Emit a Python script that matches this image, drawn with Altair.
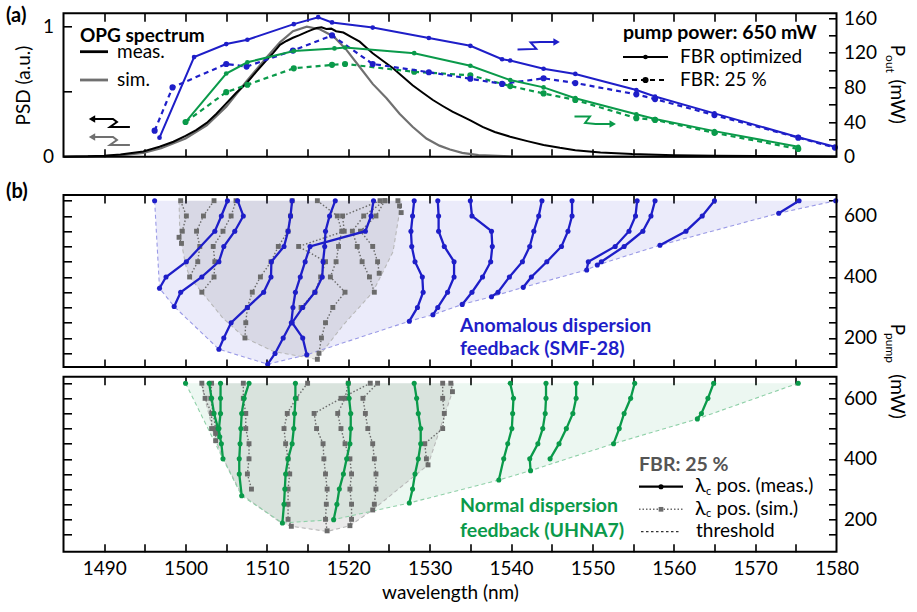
import altair as alt
import pandas as pd

FONT = "Lato"
BLUE = "#1e1ec8"
GREEN = "#0a9a4a"
SIMC = "#6b6b6b"

# ---------------- panel (a): OPG spectra (left axis) ----------------
PSD_MEAS_WL = [1485, 1488, 1490, 1492, 1494.8, 1496.8, 1498.5, 1500, 1501.3, 1502.6, 1503.8, 1505, 1506.2,
               1507.5, 1508.7, 1509.9, 1510.8, 1511.6, 1512.4, 1513.2, 1514.0, 1514.9, 1515.5, 1516.1, 1516.7,
               1517.3, 1517.9, 1518.5, 1519.4, 1520.4, 1521.4, 1522.2, 1523, 1524.2, 1525.5, 1526.7, 1527.9,
               1529.2, 1530.4, 1531.6, 1532.8, 1534, 1535, 1536.5, 1538, 1539.9, 1542, 1544, 1546, 1547.9,
               1551, 1554.9, 1560, 1565, 1570, 1575, 1580]
PSD_MEAS = [0, 0.003, 0.008, 0.017, 0.04, 0.077, 0.115, 0.16, 0.205, 0.26, 0.33, 0.41, 0.49,
            0.565, 0.655, 0.74, 0.80, 0.86, 0.89, 0.915, 0.935, 0.96, 0.975, 0.99, 0.995,
            0.982, 0.985, 0.965, 0.955, 0.92, 0.885, 0.84, 0.795, 0.74, 0.68, 0.615, 0.55,
            0.49, 0.436, 0.39, 0.346, 0.31, 0.28, 0.23, 0.19, 0.154, 0.12, 0.09, 0.068, 0.05,
            0.032, 0.02, 0.012, 0.008, 0.005, 0.003, 0.002]
PSD_SIM_WL = [1485, 1488, 1490, 1492.5, 1494.8, 1497, 1500, 1502.6, 1505, 1507.5, 1509.9, 1511.6, 1513.2,
              1514.9, 1516.5, 1518.2, 1519.8, 1521.4, 1523, 1524.7, 1526.3, 1527.9, 1529.6, 1531.2,
              1532.5, 1534, 1536, 1540, 1545, 1580]
PSD_SIM = [0, 0.002, 0.005, 0.014, 0.03, 0.065, 0.14, 0.24, 0.385, 0.58, 0.76, 0.88, 0.965,
           1.0, 0.98, 0.925, 0.82, 0.69, 0.56, 0.45, 0.33, 0.23, 0.14, 0.085,
           0.055, 0.03, 0.012, 0.002, 0, 0]

# ---------------- panel (a): output power at 650 mW pump (right axis) ----------------
SMF_OPT_WL = [1496.8, 1501.05, 1505.0, 1507.6, 1513.3, 1516.3, 1518.0, 1523.0, 1529.9, 1535.0,
              1538.9, 1539.9, 1544.0, 1547.9, 1555.4, 1557.7, 1565.0, 1575.3, 1579.8]
SMF_OPT_P = [22, 115, 130, 135, 153, 161, 155, 149, 137, 128, 112.5, 111, 101.5, 95.5, 77, 69.5, 50, 22.5, 11.5]
SMF_25_WL = [1496.2, 1498.4, 1505.0, 1507.5, 1513.2, 1518.0, 1523.0, 1529.9, 1535.0, 1538.9,
             1544.0, 1547.9, 1555.4, 1557.7, 1565.0, 1575.3, 1579.8]
SMF_25_P = [30, 80, 107, 104, 122.5, 140, 107, 97.5, 90, 84, 90.5, 85, 72, 66.5, 48, 22, 10.5]
UHNA_OPT_WL = [1500.0, 1505.0, 1507.6, 1513.3, 1518.3, 1519.6, 1528.1, 1535.0, 1539.9, 1544.0,
               1547.9, 1555.4, 1557.7, 1565.0, 1575.3]
UHNA_OPT_P = [40, 96, 109, 122, 125, 126, 119.5, 105, 88.5, 80, 67.5, 49, 43.5, 29.5, 11.5]
UHNA_25_WL = [1500.0, 1505.0, 1507.6, 1513.3, 1518.0, 1519.6, 1528.1, 1535.0, 1539.9, 1544.0,
              1547.9, 1555.4, 1557.7, 1565.0, 1575.3]
UHNA_25_P = [40, 74.5, 83, 102, 106, 107, 98, 94, 81.5, 73, 65.5, 44.5, 42.5, 27.5, 9]

# arrows (data coordinates)
ARW_K_WL = [1488.5, 1491.08, 1491.57, 1490.71, 1493.16]
ARW_K_Y = [0.290, 0.290, 0.267, 0.228, 0.228]
ARW_G_Y = [0.152, 0.152, 0.128, 0.090, 0.090]
ARW_B_WL = [1540.8, 1543.1, 1542.4, 1543.6, 1545.6]
ARW_B_Y = [123.8, 124.4, 131.9, 132.4, 132.4]
ARW_N_WL = [1547.8, 1549.7, 1549.1, 1550.4, 1552.5]
ARW_N_Y = [46.4, 46.4, 38.9, 37.8, 37.8]

# ---------------- panel (b) upper: anomalous dispersion (SMF-28) ----------------
SMF_MEAS_WL = [
    [1496.2],
    [1505.15, 1504.4, 1503.6, 1500.1, 1497.6, 1496.8],
    [1506.4, 1507.1, 1506.05, 1504.7, 1504.1, 1502.0, 1499.4, 1498.6],
    [1513.1, 1512.9, 1512.6, 1512.1, 1510.55, 1510.5, 1509.6, 1507.6, 1505.6, 1504.7, 1504.1],
    [1523.1, 1522.8, 1522.1, 1515.3, 1514.7, 1514.1, 1513.5, 1513.2, 1513.0, 1512.0, 1511.0, 1510.1],
    [1518.4, 1517.7, 1517.2, 1517.1, 1516.9, 1516.8, 1515.9, 1514.4, 1513.1, 1514.4, 1514.9],
    [1528.1, 1527.9, 1527.7, 1527.8, 1528.2, 1529.1, 1529.2, 1528.5, 1527.5],
    [1531.0, 1531.1, 1531.1, 1531.8, 1533.0, 1533.0, 1532.2, 1531.0, 1530.4],
    [1535.0, 1535.2, 1537.6, 1537.7, 1537.5, 1536.5, 1535.2, 1534.0],
    [1543.8, 1543.4, 1542.8, 1542.3, 1541.4, 1539.8, 1538.4, 1537.6],
    [1547.5, 1547.5, 1547.0, 1546.2, 1544.4, 1542.5, 1541.5],
    [1555.5, 1555.3, 1554.5, 1552.8, 1549.5, 1549.3],
    [1557.7, 1557.2, 1556.2, 1553.9, 1551.1, 1550.6],
    [1565.0, 1563.5, 1561.5, 1558.3],
    [1575.4, 1572.9],
    [1579.9],
]
SMF_MEAS_PUMP = [
    [650],
    [650, 600, 550, 450, 400, 363],
    [650, 600, 550, 500, 450, 400, 350, 303],
    [650, 600, 550, 500, 450, 400, 350, 300, 250, 200, 163],
    [650, 600, 550, 500, 450, 400, 350, 300, 250, 200, 149, 114],
    [650, 600, 550, 500, 450, 400, 350, 300, 250, 200, 145],
    [650, 600, 550, 500, 450, 400, 350, 300, 255],
    [650, 600, 550, 500, 450, 400, 350, 300, 276],
    [650, 600, 550, 500, 450, 400, 350, 310],
    [650, 600, 550, 500, 450, 400, 350, 335],
    [650, 600, 550, 500, 450, 400, 366],
    [650, 600, 550, 500, 450, 423],
    [650, 600, 550, 500, 450, 439],
    [650, 600, 550, 504],
    [650, 609],
    [650],
]
SMF_SIM_WL = [
    [1499.4, 1500.1, 1499.6, 1499.2, 1499.5],
    [1503.5, 1502.2, 1501.35, 1501.75, 1501.5, 1500.5],
    [1506.2, 1505.6, 1504.6, 1503.4, 1503.6, 1503.5, 1502.0],
    [1513.1, 1512.9, 1512.6, 1511.4, 1510.5, 1509.2, 1508.2, 1507.6, 1507.4, 1507.3],
    [1516.2, 1518.65, 1519.2, 1518.8, 1518.5, 1517.8, 1519.6, 1518.1, 1517.2, 1516.7, 1516.4, 1516.2],
    [1523.9, 1519.3, 1519.5, 1513.9, 1517.2, 1516.6, 1515.9, 1514.2],
    [1524.5, 1521.9, 1520.5, 1521.1, 1521.7, 1522.6, 1523.2],
    [1524.5, 1523.4, 1521.5, 1523.0, 1523.6, 1523.8],
    [1526.1, 1526.3, 1526.5],
]
SMF_SIM_PUMP = [
    [650, 600, 550, 530, 510],
    [650, 600, 550, 500, 450, 400],
    [650, 600, 550, 500, 450, 400, 350],
    [650, 600, 550, 500, 450, 400, 350, 300, 250, 200],
    [650, 600, 550, 500, 450, 400, 350, 300, 250, 200, 150, 130],
    [650, 600, 550, 500, 450, 400, 350, 300],
    [650, 600, 550, 500, 450, 400, 350],
    [650, 600, 550, 500, 450, 412],
    [650, 633, 611],
]
SMF_THR_WL = [1496.2, 1496.8, 1498.6, 1504.1, 1510.1, 1514.9, 1527.5, 1530.4, 1534.0, 1537.6,
              1541.5, 1549.3, 1550.6, 1558.3, 1572.9, 1579.9]
SMF_THR_PUMP = [650, 363, 303, 163, 114, 145, 255, 276, 310, 335, 366, 423, 439, 504, 609, 650]
SMF_SIMTHR_WL = [1499.2, 1499.3, 1500.0, 1500.5, 1502.0, 1504.6, 1507.3, 1510.8, 1516.1, 1519.4,
                 1523.0, 1525.5, 1526.4, 1526.6]
SMF_SIMTHR_PUMP = [650, 540, 440, 400, 350, 265, 200, 156, 130, 243, 350, 483, 630, 650]

# ---------------- panel (b) lower: normal dispersion (UHNA7) ----------------
UHNA_MEAS_WL = [
    [1500.0],
    [1502.9, 1503.2, 1503.5, 1504.0, 1504.4, 1504.6],
    [1504.3, 1504.3, 1504.3, 1504.1, 1504.2],
    [1507.8, 1507.2, 1506.9, 1506.8, 1506.7, 1506.6, 1506.6, 1506.9],
    [1513.5, 1513.5, 1513.4, 1513.3, 1513.1, 1512.6, 1512.3, 1512.2, 1512.1, 1511.9],
    [1520.0, 1520.1, 1520.3, 1520.3, 1520.2, 1519.8, 1519.4, 1518.9, 1518.6, 1518.2],
    [1528.1, 1528.4, 1528.6, 1528.9, 1528.9, 1528.6, 1528.2, 1527.9, 1527.5],
    [1539.9, 1540.3, 1540.2, 1540.1, 1539.6, 1539.1, 1538.5],
    [1544.3, 1544.3, 1544.2, 1543.9, 1543.3, 1542.3, 1542.4],
    [1548.0, 1548.0, 1547.6, 1546.8, 1545.9, 1544.8],
    [1555.2, 1554.7, 1553.9, 1553.3, 1552.6],
    [1564.9, 1564.2, 1563.4, 1562.9],
    [1575.3],
]
UHNA_MEAS_PUMP = [
    [650],
    [650, 600, 550, 500, 450, 400],
    [650, 600, 550, 500, 473],
    [650, 600, 550, 500, 450, 400, 350, 278],
    [650, 600, 550, 500, 450, 400, 350, 300, 250, 188],
    [650, 600, 550, 500, 450, 400, 350, 300, 250, 199],
    [650, 600, 550, 500, 450, 400, 350, 300, 254],
    [650, 600, 550, 500, 450, 400, 330],
    [650, 600, 550, 500, 450, 400, 361],
    [650, 600, 550, 500, 450, 400],
    [650, 600, 550, 500, 450],
    [650, 600, 550, 532],
    [650],
]
UHNA_SIM_WL = [
    [1502.0, 1502.4, 1503.2, 1503.2, 1503.7],
    [1503.2, 1503.1, 1503.4, 1503.7, 1503.7],
    [1507.1, 1507.1, 1507.4, 1507.4, 1507.8, 1507.8, 1507.6, 1508.1],
    [1515.0, 1513.6, 1512.5, 1512.1, 1512.3, 1512.6, 1512.8, 1512.6, 1512.6, 1512.6, 1513.0],
    [1522.7, 1519.1, 1515.8, 1516.1, 1516.9, 1517.0, 1517.2, 1517.4, 1517.3, 1517.2, 1517.4],
    [1523.6, 1521.8, 1522.1, 1522.4, 1523.0, 1523.2, 1523.4, 1523.4, 1523.2, 1523.0],
    [1520.0, 1519.6, 1518.7, 1519.1, 1519.6, 1520.2, 1520.4, 1520.2, 1520.4, 1520.4, 1520.2],
    [1531.6, 1531.6, 1531.8, 1531.6, 1529.4, 1529.6, 1529.8],
    [1532.6, 1532.8],
]
UHNA_SIM_PUMP = [
    [650, 600, 550, 500, 484],
    [650, 600, 550, 500, 460],
    [650, 600, 550, 500, 450, 400, 350, 300],
    [650, 600, 550, 500, 450, 400, 350, 300, 250, 200, 177],
    [650, 600, 550, 500, 450, 400, 350, 300, 250, 200, 162],
    [650, 600, 550, 500, 450, 400, 350, 300, 250, 231],
    [650, 600, 550, 500, 450, 400, 350, 300, 250, 200, 179],
    [650, 600, 550, 500, 450, 400, 380],
    [650, 622],
]
UHNA_THR_WL = [1500.0, 1504.6, 1506.9, 1511.9, 1518.2, 1527.5, 1538.5, 1542.4, 1552.6, 1562.9, 1575.3]
UHNA_THR_PUMP = [650, 400, 278, 188, 199, 254, 330, 361, 450, 532, 650]
UHNA_SIMTHR_WL = [1501.9, 1503.6, 1504.6, 1506.9, 1511.8, 1513.0, 1517.4, 1520.2, 1523.0, 1529.8, 1532.8, 1532.9]
UHNA_SIMTHR_PUMP = [650, 470, 402, 282, 187, 177, 160, 179, 231, 380, 622, 650]

X_TICKS = list(range(1490, 1580, 5))
X_LABELS = list(range(1490, 1581, 10))
PUMP_TICKS = list(range(150, 651, 50))
PUMP_LABELS = [200, 400, 600]
POUT_TICKS = list(range(20, 161, 20))
POUT_LABELS = [0, 40, 80, 120, 160]

# ---------------- layout ----------------
W = 773.0
H = 538.4
A_T, A_B = 0.0, 143.4
B1_T, B1_B = 181.7, 353.7
B2_T, B2_B = 363.4, 538.4

XS = alt.Scale(domain=[1485, 1580], nice=False, zero=False)


def yscale(dom, top, bot):
    return alt.Scale(domain=dom, range=[bot, top], nice=False, zero=False)


S_PSD = yscale([0, 1.103], A_T, A_B)
S_POUT = yscale([0, 165.5], A_T, A_B)
S_B1 = yscale([104.8, 668.7], B1_T, B1_B)
S_B2 = yscale([93, 671.5], B2_T, B2_B)

X = alt.X("wl:Q", scale=XS, axis=None)


def Y(scale):
    return alt.Y("y:Q", scale=scale, axis=None)


def df_xy(wl, y):
    return pd.DataFrame({"wl": wl, "y": y, "i": list(range(len(wl)))})


def df_series(wls, ps):
    rows = []
    for k, (wl, p) in enumerate(zip(wls, ps)):
        for i, (a, b) in enumerate(zip(wl, p)):
            rows.append({"s": k, "i": i, "wl": a, "y": b})
    return pd.DataFrame(rows)


ONE = pd.DataFrame({"a": [0]})
layers = []


def panel_b(mwl, mp, swl, sp, twl, tp, stwl, stp, scale, color, fill_op, thr_color):
    out = []
    thr = df_xy(twl, tp).assign(top=650)
    sthr = df_xy(stwl, stp).assign(top=650)
    out.append(alt.Chart(thr).mark_area(color=color, opacity=fill_op).encode(x=X, y=Y(scale), y2="top:Q"))
    out.append(alt.Chart(sthr).mark_area(color="#555555", opacity=0.12).encode(x=X, y=Y(scale), y2="top:Q"))
    out.append(alt.Chart(sthr).mark_line(color="#b8b8b8", strokeDash=[4, 3], strokeWidth=1.1).encode(x=X, y=Y(scale)))
    out.append(alt.Chart(thr).mark_line(color=thr_color, strokeDash=[4, 3], strokeWidth=1.1).encode(x=X, y=Y(scale)))
    sim = df_series(swl, sp)
    out.append(alt.Chart(sim).mark_line(color=SIMC, strokeDash=[1.5, 2], strokeWidth=1.4).encode(
        x=X, y=Y(scale), detail="s:N", order="i:Q"))
    out.append(alt.Chart(sim).mark_square(color=SIMC, size=24, opacity=1).encode(x=X, y=Y(scale)))
    meas = df_series(mwl, mp)
    out.append(alt.Chart(meas).mark_line(color=color, strokeWidth=2.3).encode(
        x=X, y=Y(scale), detail="s:N", order="i:Q"))
    out.append(alt.Chart(meas).mark_circle(color=color, size=26, opacity=1).encode(x=X, y=Y(scale)))
    return out


layers += panel_b(SMF_MEAS_WL, SMF_MEAS_PUMP, SMF_SIM_WL, SMF_SIM_PUMP, SMF_THR_WL, SMF_THR_PUMP,
                  SMF_SIMTHR_WL, SMF_SIMTHR_PUMP, S_B1, BLUE, 0.09, "#9a9ae6")
layers += panel_b(UHNA_MEAS_WL, UHNA_MEAS_PUMP, UHNA_SIM_WL, UHNA_SIM_PUMP, UHNA_THR_WL, UHNA_THR_PUMP,
                  UHNA_SIMTHR_WL, UHNA_SIMTHR_PUMP, S_B2, GREEN, 0.08, "#8fd0a8")

# panel (a) spectra
layers.append(alt.Chart(df_xy(PSD_SIM_WL, PSD_SIM)).mark_line(color="#707070", strokeWidth=2.2).encode(x=X, y=Y(S_PSD)))
layers.append(alt.Chart(df_xy(PSD_MEAS_WL, PSD_MEAS)).mark_line(color="black", strokeWidth=2).encode(x=X, y=Y(S_PSD)))

# panel (a) power
for wl, p, col, dash, sz in [(UHNA_25_WL, UHNA_25_P, GREEN, [5, 4], 38), (SMF_25_WL, SMF_25_P, BLUE, [5, 4], 38),
                             (UHNA_OPT_WL, UHNA_OPT_P, GREEN, None, 22), (SMF_OPT_WL, SMF_OPT_P, BLUE, None, 22)]:
    d = df_xy(wl, p)
    if dash:
        ln = alt.Chart(d).mark_line(color=col, strokeWidth=2.2, strokeDash=dash)
    else:
        ln = alt.Chart(d).mark_line(color=col, strokeWidth=2)
    layers.append(ln.encode(x=X, y=Y(S_POUT), order="i:Q"))
    layers.append(alt.Chart(d).mark_circle(color=col, size=sz, opacity=1).encode(x=X, y=Y(S_POUT)))

# arrows
for wl, yy, col, sc, shape in [(ARW_K_WL, ARW_K_Y, "black", S_PSD, "triangle-left"),
                               (ARW_K_WL, ARW_G_Y, "#707070", S_PSD, "triangle-left"),
                               (ARW_B_WL, ARW_B_Y, BLUE, S_POUT, "triangle-right"),
                               (ARW_N_WL, ARW_N_Y, GREEN, S_POUT, "triangle-right")]:
    d = df_xy(wl, yy)
    layers.append(alt.Chart(d).mark_line(color=col, strokeWidth=2).encode(x=X, y=Y(sc), order="i:Q"))
    tip = d.iloc[[0]] if shape == "triangle-left" else d.iloc[[-1]]
    layers.append(alt.Chart(tip).mark_point(shape=shape, filled=True, size=55, color=col, opacity=1).encode(
        x=X, y=Y(sc)))

# frames
for t, b in [(A_T, A_B), (B1_T, B1_B), (B2_T, B2_B)]:
    layers.append(alt.Chart(ONE).mark_rect(filled=False, stroke="black", strokeWidth=2).encode(
        x=alt.value(0), x2=alt.value(W), y=alt.value(t), y2=alt.value(b)))

# axes
TK = dict(ticks=True, tickSize=8, tickWidth=1.6, tickColor="black", labels=False, domain=False, grid=False,
          title=None)


def ax_layer(xaxis=None, yaxis=None, yscale_=None, yval=0):
    d = pd.DataFrame({"wl": [1530.0], "y": [yval]})
    enc = {"x": alt.X("wl:Q", scale=XS, axis=xaxis)}
    if yscale_ is not None:
        enc["y"] = alt.Y("y:Q", scale=yscale_, axis=yaxis)
    else:
        enc["y"] = alt.value(0)
    return alt.Chart(d).mark_point(opacity=0).encode(**enc)


for t in [A_T, B1_T, B2_T]:
    layers.append(ax_layer(xaxis=alt.Axis(orient="bottom", offset=-(H - t), values=X_TICKS, **TK)))
for b in [A_B, B1_B, B2_B]:
    layers.append(ax_layer(xaxis=alt.Axis(orient="top", offset=-b, values=X_TICKS, **TK)))
layers.append(ax_layer(xaxis=alt.Axis(orient="bottom", values=X_LABELS, format="d", ticks=False, tickSize=0,
                                      domain=False, grid=False, labelPadding=8, labelFlush=False,
                                      title="wavelength (nm)", titlePadding=5, titleFontWeight="normal")))

for sc, lv, tv, yv in [(S_PSD, None, [0.5, 1], 0.5), (S_POUT, POUT_LABELS, POUT_TICKS, 50),
                       (S_B1, PUMP_LABELS, PUMP_TICKS, 400), (S_B2, PUMP_LABELS, PUMP_TICKS, 400)]:
    if sc is S_PSD:
        layers.append(ax_layer(yaxis=alt.Axis(orient="right", offset=-W, values=tv, **TK), yscale_=sc, yval=yv))
        layers.append(ax_layer(yaxis=alt.Axis(orient="left", values=[0, 1], format="d", ticks=False, tickSize=0,
                                              domain=False, grid=False, labelPadding=10, title="PSD (a.u.)",
                                              titlePadding=9, titleFontWeight="normal"), yscale_=sc, yval=yv))
    elif sc is S_POUT:
        layers.append(ax_layer(yaxis=alt.Axis(orient="left", offset=-W, values=tv, **TK), yscale_=sc, yval=yv))
        layers.append(ax_layer(yaxis=alt.Axis(orient="right", values=lv, format="d", ticks=False, tickSize=0,
                                              domain=False, grid=False, labelPadding=7, title=None),
                               yscale_=sc, yval=yv))
    else:
        layers.append(ax_layer(yaxis=alt.Axis(orient="right", offset=-W, values=tv, **TK), yscale_=sc, yval=yv))
        layers.append(ax_layer(yaxis=alt.Axis(orient="left", offset=-W, values=tv, **TK), yscale_=sc, yval=yv))
        layers.append(ax_layer(yaxis=alt.Axis(orient="right", values=lv, format="d", ticks=False, tickSize=0,
                                              domain=False, grid=False, labelPadding=7, title=None),
                               yscale_=sc, yval=yv))


def txt(s, x, y, size=19, bold=False, color="black", align="left", baseline="middle", angle=0):
    kw = dict(text=s, font=FONT, fontSize=size, fontWeight="bold" if bold else "normal", color=color,
              align=align, baseline=baseline)
    if angle:
        kw["angle"] = angle
    return alt.Chart(ONE).mark_text(**kw).encode(x=alt.value(x), y=alt.value(y))


def rule(x1, x2, y, color="black", width=2.5, dash=None):
    kw = dict(color=color, strokeWidth=width)
    if dash:
        kw["strokeDash"] = dash
    return alt.Chart(ONE).mark_rule(**kw).encode(x=alt.value(x1), x2=alt.value(x2), y=alt.value(y))


def dot(x, y, color, size, shape="circle"):
    return alt.Chart(ONE).mark_point(shape=shape, filled=True, size=size, color=color, opacity=1).encode(
        x=alt.value(x), y=alt.value(y))


# panel labels
layers.append(txt("(a)", -57.5, 2.8, size=20, bold=True))
layers.append(txt("(b)", -57.5, 178.5, size=20, bold=True))

# legend panel (a) left
layers.append(txt("OPG spectrum", 16.5, 22.7, size=19, bold=True))
layers.append(rule(16.5, 44.5, 38.4, "black", 2.8))
layers.append(txt("meas.", 53.5, 38.4))
layers.append(rule(16.5, 44.5, 66.7, "#707070", 2.8))
layers.append(txt("sim.", 53.5, 66.7))

# legend panel (a) right
layers.append(txt("pump power: 650 mW", 559.5, 19.7, size=19.5, bold=True))
layers.append(rule(559.5, 604.5, 43.7, "black", 2))
layers.append(dot(582, 43.7, "black", 22))
layers.append(txt("FBR optimized", 616.5, 43.7))
layers.append(rule(559.5, 604.5, 66.7, "black", 2.2, [5, 4]))
layers.append(dot(582, 66.7, "black", 38))
layers.append(txt("FBR: 25 %", 616.5, 66.7))

# right titles
layers.append(txt("P", W + 54.5, 37.2, angle=90, align="center", baseline="alphabetic"))
layers.append(txt("out", W + 49.5, 50.7, size=12, angle=90, align="center", baseline="alphabetic"))
layers.append(txt("(mW)", W + 54.5, 88.4, angle=90, align="center", baseline="alphabetic"))
layers.append(txt("P", W + 54.5, 316.2, angle=90, align="center", baseline="alphabetic"))
layers.append(txt("pump", W + 49.5, 334.7, size=12, angle=90, align="center", baseline="alphabetic"))
layers.append(txt("(mW)", W + 54.5, 383.2, angle=90, align="center", baseline="alphabetic"))

# panel (b) annotations
layers.append(txt("Anomalous dispersion", 396.5, 312.4, size=19.5, bold=True, color=BLUE))
layers.append(txt("feedback (SMF-28)", 396.5, 336.0, size=19.5, bold=True, color=BLUE))
layers.append(txt("Normal dispersion", 396.5, 492.7, size=19.5, bold=True, color=GREEN))
layers.append(txt("feedback (UHNA7)", 396.5, 518.0, size=19.5, bold=True, color=GREEN))

# legend panel (b)
layers.append(txt("FBR: 25 %", 575.5, 451.7, size=19.5, bold=True, color="#555555"))
layers.append(rule(575.5, 619.5, 473.4, "black", 2.3))
layers.append(dot(597.5, 473.4, "black", 26))
layers.append(txt("λ", 631.5, 472.7, size=20))
layers.append(txt("c", 642.5, 478.5, size=11))
layers.append(txt("pos. (meas.)", 653, 472.7))
layers.append(rule(575.5, 619.5, 496, SIMC, 1.4, [1.5, 2]))
layers.append(dot(597.5, 496, SIMC, 22, "square"))
layers.append(txt("λ", 631.5, 495.3, size=20))
layers.append(txt("c", 642.5, 501.1, size=11))
layers.append(txt("pos. (sim.)", 653, 495.3))
layers.append(rule(577.5, 616.5, 518.4, "#333333", 1.2, [2.5, 2.5]))
layers.append(txt("threshold", 632.5, 517.7))

chart = (
    alt.layer(*layers)
    .resolve_scale(y="independent")
    .resolve_axis(x="independent", y="independent")
    .properties(width=W, height=H, autosize=alt.AutoSizeParams(type="none"),
                padding={"left": 63.5, "top": 13.3, "right": 80.5, "bottom": 60.3})
    .configure_view(stroke=None)
    .configure_axis(labelFont=FONT, titleFont=FONT, labelColor="black", titleColor="black",
                    labelFontSize=19, titleFontSize=19)
)

chart.save("out.html", embed_options={"renderer": "svg", "actions": False})
